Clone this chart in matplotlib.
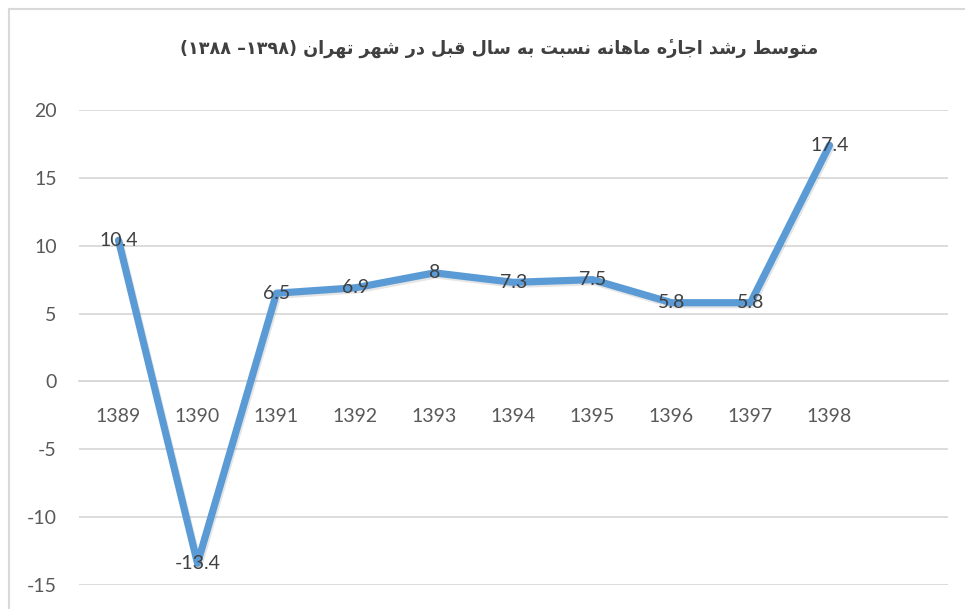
import numpy as np
import matplotlib
matplotlib.use('Agg')
import matplotlib.pyplot as plt
import matplotlib.patheffects as pe
from matplotlib.lines import Line2D

years = ['1389', '1390', '1391', '1392', '1393', '1394', '1395', '1396', '1397', '1398']
growth = [10.4, -13.4, 6.5, 6.9, 8, 7.3, 7.5, 5.8, 5.8, 17.4]
y_ticks = [-15, -10, -5, 0, 5, 10, 15, 20]

title_fa = 'متوسط رشد اجارهٔ ماهانه نسبت به سال قبل در شهر تهران'
title_years = ('۱۳۸۸', '۱۳۹۸')

# matplotlib has no arabic shaping, so pick presentation forms by hand
# (isolated, final, initial, medial)
FORMS = {
    'ا': (0xFE8D, 0xFE8E, None, None),
    'ب': (0xFE8F, 0xFE90, 0xFE91, 0xFE92),
    'ت': (0xFE95, 0xFE96, 0xFE97, 0xFE98),
    'ج': (0xFE9D, 0xFE9E, 0xFE9F, 0xFEA0),
    'د': (0xFEA9, 0xFEAA, None, None),
    'ر': (0xFEAD, 0xFEAE, None, None),
    'س': (0xFEB1, 0xFEB2, 0xFEB3, 0xFEB4),
    'ش': (0xFEB5, 0xFEB6, 0xFEB7, 0xFEB8),
    'ط': (0xFEC1, 0xFEC2, 0xFEC3, 0xFEC4),
    'ق': (0xFED5, 0xFED6, 0xFED7, 0xFED8),
    'ل': (0xFEDD, 0xFEDE, 0xFEDF, 0xFEE0),
    'م': (0xFEE1, 0xFEE2, 0xFEE3, 0xFEE4),
    'ن': (0xFEE5, 0xFEE6, 0xFEE7, 0xFEE8),
    'ه': (0xFEE9, 0xFEEA, 0xFEEB, 0xFEEC),
    'و': (0xFEED, 0xFEEE, None, None),
}


def shape(text):
    out = []
    for i, ch in enumerate(text):
        f = FORMS.get(ch)
        if f is None:
            out.append(ch)
            continue
        prev = text[i - 1] if i > 0 else ''
        nxt = text[i + 1] if i + 1 < len(text) else ''
        pj = prev in FORMS and FORMS[prev][2] is not None
        nj = nxt in FORMS and f[2] is not None
        if pj and nj:
            code = f[3]
        elif pj:
            code = f[1]
        elif nj:
            code = f[2]
        else:
            code = f[0]
        out.append(chr(code))
    # reverse for left-to-right drawing, keep the hamza mark after its letter
    vis = ''.join(reversed(out))
    return vis.replace('\u0654' + chr(0xFEE9), chr(0xFEE9) + '\u0654')


plt.rcParams['font.family'] = ['Lato', 'DejaVu Sans']
plt.rcParams['axes.unicode_minus'] = False

fig = plt.figure(figsize=(9.65, 6.09), dpi=100)
ax = fig.add_axes([79 / 965, 1 - 585 / 609, (948 - 79) / 965, 475 / 609])

x = np.arange(len(years))
ax.plot(x, growth, color='#5B9BD5', linewidth=5.2, solid_joinstyle='round',
        solid_capstyle='round', zorder=3,
        path_effects=[pe.SimpleLineShadow(offset=(1, -1.5), shadow_color='#7f7f7f', alpha=0.2),
                      pe.Normal()])

for xi, v in zip(x, growth):
    ax.text(xi, v, f'{v:g}', ha='center', va='center', fontsize=14, color='#404040', zorder=4)

ax.set_xlim(-0.5, len(years) + 0.5)
ax.set_ylim(-15, 20)
ax.set_yticks(y_ticks)
ax.set_xticks(x)
ax.set_xticklabels(years)
ax.grid(axis='y', color='#D9D9D9', linewidth=1.3)
ax.set_axisbelow(True)
for s in ['top', 'right', 'left']:
    ax.spines[s].set_visible(False)
ax.spines['bottom'].set_position(('data', 0))
ax.spines['bottom'].set_color('#D9D9D9')
ax.spines['bottom'].set_linewidth(1.3)
ax.tick_params(axis='x', length=0, pad=19, labelsize=14, labelcolor='#595959')
ax.tick_params(axis='y', length=0, pad=16, labelsize=14, labelcolor='#595959')

title_vis = '(' + title_years[0] + ' –' + title_years[1] + ') ' + shape(title_fa)
fig.text(499 / 965, 1 - 49 / 609, title_vis, ha='center', va='center', fontsize=12.7,
         fontweight='bold', color='#404040', family=['DejaVu Sans'])

# chart frame (only left and top edges are inside the picture)
fig.add_artist(Line2D([8.5 / 965, 8.5 / 965], [0, 1 - 9 / 609], transform=fig.transFigure,
                      color='#D9D9D9', linewidth=1.5))
fig.add_artist(Line2D([8.5 / 965, 1], [1 - 9 / 609, 1 - 9 / 609], transform=fig.transFigure,
                      color='#D9D9D9', linewidth=1.5))

fig.savefig('out.png', dpi=100)
